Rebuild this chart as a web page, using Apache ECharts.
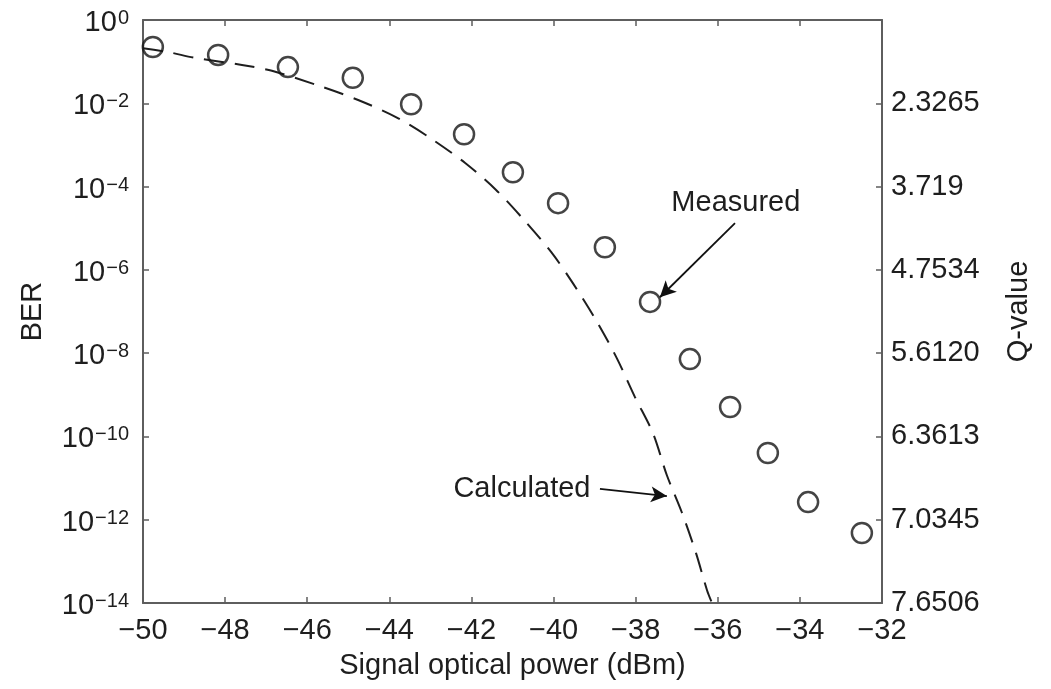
<!DOCTYPE html>
<html>
<head>
<meta charset="utf-8">
<script src="https://cdn.jsdelivr.net/npm/echarts@6/dist/echarts.min.js"></script>
<style>
  html, body { margin: 0; padding: 0; background: #fff; }
  #chart { width: 1051px; height: 689px; }
</style>
</head>
<body>
<div id="chart"></div>
<script>
// Measured BER points (signal optical power in dBm, BER)
const measuredX = [-49.76, -48.17, -46.47, -44.89, -43.47, -42.18, -40.99, -39.89, -38.75, -37.65, -36.68, -35.70, -34.78, -33.80, -32.49];
const measuredBER = [0.224, 0.145, 0.074, 0.041, 9.5e-3, 1.8e-3, 2.2e-4, 4.0e-5, 3.5e-6, 1.7e-7, 7.2e-9, 5.1e-10, 4.0e-11, 2.65e-12, 4.8e-13];

// Calculated curve
const calcX = [-50, -49.39, -48.73, -47.59, -46.86, -45.71, -44.76, -43.84, -43.01, -42.16, -41.40, -40.72, -40.06, -39.53, -38.94, -38.46, -38.02, -37.58, -37.24, -36.87, -36.53, -36.26, -36.14];
const calcBER = [0.209, 0.170, 0.123, 0.0832, 0.0603, 0.0263, 0.0120, 4.68e-3, 1.48e-3, 3.72e-4, 8.3e-5, 1.58e-5, 2.69e-6, 4.8e-7, 5.6e-8, 7.6e-9, 8.9e-10, 1.2e-10, 1.17e-11, 1.45e-12, 1.58e-13, 2.0e-14, 1e-14];

// Right axis Q-value labels for BER = 10^0, 10^-2, ..., 10^-14
const qLabels = ['', '2.3265', '3.719', '4.7534', '5.6120', '6.3613', '7.0345', '7.6506'];

// Annotations: text anchor and arrow (start -> tip) in data coordinates
const measuredNote = { text: 'Measured', at: [-35.56, 4.0e-5], from: [-35.58, 1.33e-5], to: [-37.41, 2.2e-7] };
const calcNote = { text: 'Calculated', at: [-40.77, 5.5e-12], from: [-38.87, 5.5e-12], to: [-37.24, 3.7e-12] };

const FONT = '"Liberation Sans", Arial, sans-serif';
const TEXT = '#1e1e1e';
const AXIS = '#5e5e5e';
const FS = 29;

const minus = (s) => String(s).replace('-', '\u2212');

const chart = echarts.init(document.getElementById('chart'), null, { renderer: 'canvas' });

const logExp = (v) => Math.round(Math.log10(v));

const tickStyle = { show: true, inside: true, length: 6, lineStyle: { color: AXIS, width: 1.5 } };
const lineStyleAxis = { show: true, lineStyle: { color: AXIS, width: 2 } };

const option = {
  backgroundColor: '#fff',
  animation: false,
  textStyle: { fontFamily: FONT, color: TEXT },
  grid: { left: 143, right: 169, top: 20, bottom: 86 },
  xAxis: [
    {
      type: 'value',
      min: -50,
      max: -32,
      interval: 2,
      name: 'Signal optical power (dBm)',
      nameLocation: 'middle',
      nameGap: 48,
      nameTextStyle: { fontSize: FS, color: TEXT, fontFamily: FONT },
      axisLine: lineStyleAxis,
      axisTick: tickStyle,
      axisLabel: { fontSize: FS, color: TEXT, margin: 13, formatter: (v) => minus(v) },
      splitLine: { show: false },
    },
    {
      type: 'value',
      position: 'top',
      min: -50,
      max: -32,
      interval: 2,
      axisLine: lineStyleAxis,
      axisTick: tickStyle,
      axisLabel: { show: false },
      splitLine: { show: false },
    },
  ],
  yAxis: [
    {
      type: 'log',
      logBase: 100,
      min: 1e-14,
      max: 1,
      interval: 1,
      name: 'BER',
      nameLocation: 'middle',
      nameRotate: 90,
      nameGap: 96,
      nameTextStyle: { fontSize: FS, color: TEXT, fontFamily: FONT },
      axisLine: lineStyleAxis,
      axisTick: tickStyle,
      axisLabel: {
        margin: 14,
        padding: [6, 0, 0, 0],
        formatter: (v) => {
          const e = logExp(v);
          return '{b|10}{s|' + (e === 0 ? '0' : minus(e)) + '}';
        },
        rich: {
          b: { fontSize: FS, color: TEXT, fontFamily: FONT, lineHeight: 29, verticalAlign: 'bottom' },
          s: { fontSize: 20, color: TEXT, fontFamily: FONT, lineHeight: 21, verticalAlign: 'top', padding: [0, 0, 0, 1] },
        },
      },
      splitLine: { show: false },
    },
    {
      type: 'log',
      logBase: 100,
      min: 1e-14,
      max: 1,
      interval: 1,
      position: 'right',
      name: 'Q-value',
      nameLocation: 'middle',
      nameRotate: 90,
      nameGap: 122,
      nameTextStyle: { fontSize: FS, color: TEXT, fontFamily: FONT },
      axisLine: lineStyleAxis,
      axisTick: tickStyle,
      axisLabel: {
        fontSize: FS,
        color: TEXT,
        margin: 9,
        formatter: (v) => qLabels[Math.round(-logExp(v) / 2)] || '',
      },
      splitLine: { show: false },
    },
  ],
  series: [
    {
      name: 'Calculated',
      type: 'line',
      data: calcX.map((x, i) => [x, calcBER[i]]),
      showSymbol: false,
      smooth: 0.3,
      lineStyle: { color: TEXT, width: 2, type: [20, 11] },
      z: 2,
      markLine: {
        silent: true,
        symbol: ['none', 'arrow'],
        symbolSize: [12, 16],
        label: { show: false },
        lineStyle: { color: '#111', width: 1.8, type: 'solid' },
        data: [
          [{ coord: measuredNote.from }, { coord: measuredNote.to }],
          [{ coord: calcNote.from }, { coord: calcNote.to }],
        ],
      },
      markPoint: {
        silent: true,
        symbol: 'circle',
        symbolSize: 0,
        label: {
          show: true,
          position: 'inside',
          fontSize: FS,
          color: TEXT,
          fontFamily: FONT,
          formatter: (p) => p.name,
        },
        data: [
          { name: measuredNote.text, coord: measuredNote.at },
          { name: calcNote.text, coord: calcNote.at },
        ],
      },
    },
    {
      name: 'Measured',
      type: 'scatter',
      data: measuredX.map((x, i) => [x, measuredBER[i]]),
      symbol: 'circle',
      symbolSize: 20,
      itemStyle: { color: 'rgba(255,255,255,0)', borderColor: '#151515', borderWidth: 2.5 },
      z: 3,
    },
  ],
};

chart.setOption(option);
</script>
</body>
</html>
